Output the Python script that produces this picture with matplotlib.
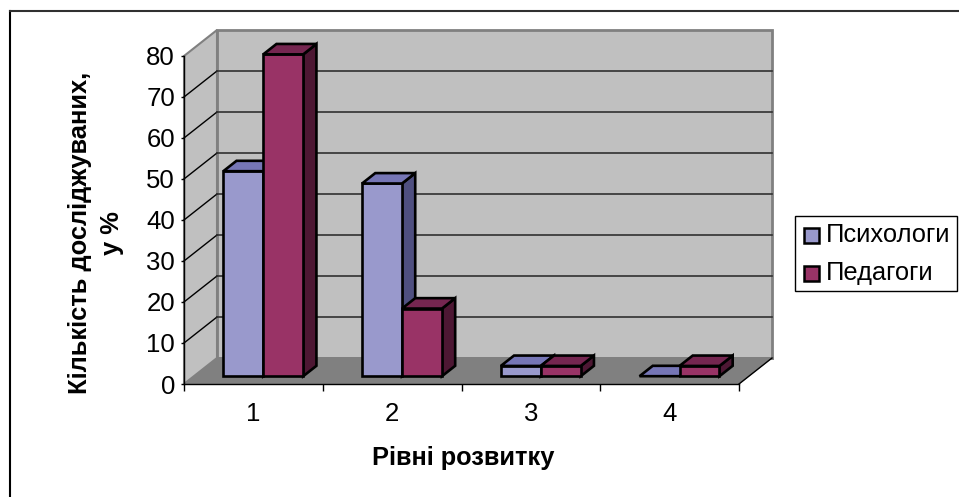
import matplotlib
matplotlib.use('Agg')
import matplotlib.pyplot as plt
from matplotlib.patches import Rectangle
from matplotlib.lines import Line2D

plt.rcParams['font.family'] = ['Liberation Sans', 'DejaVu Sans']

categories = ['1', '2', '3', '4']
psychologists = [50, 47, 2.5, 0]
pedagogues = [78.5, 16.5, 2.5, 2.5]
series_names = ['Психологи', 'Педагоги']
y_ticks = [0, 10, 20, 30, 40, 50, 60, 70, 80]
x_title = 'Рівні розвитку'
y_title = 'Кількість досліджуваних,\nу %'

W, H = 959, 497
# plot box in pixels
LEFT, RIGHT, TOP, BOTTOM = 184, 739, 56, 384
# full depth of the 3d box, in axis units
DEPTH_X = 33 / ((RIGHT - LEFT) / 4)
DEPTH_Y = 26 / ((BOTTOM - TOP) / 80)
BAR_W = 0.288
GAP = (1 - 2 * BAR_W) / 2
D_FRONT = 0.3
D_BACK = 0.7

FRONT = ['#9999CC', '#993366']
TOP_FACE = ['#7676B6', '#752650']
SIDE = ['#4F4F80', '#4D1733']
GREY_LINE = '#808080'


def off(x, y, d):
    return x + DEPTH_X * d, y + DEPTH_Y * d


def face(ax, pts, color, zorder, edge='black', lw=1.9):
    xs = [p[0] for p in pts]
    ys = [p[1] for p in pts]
    ax.fill(xs, ys, facecolor=color, edgecolor=edge, linewidth=lw, zorder=zorder,
            clip_on=False, joinstyle='miter')


def draw_bar(ax, x, value, s, z):
    x2 = x + BAR_W
    a = off(x, 0, D_FRONT)
    b = off(x2, 0, D_FRONT)
    c = off(x2, value, D_FRONT)
    d = off(x, value, D_FRONT)
    e = off(x2, value, D_BACK)
    f = off(x, value, D_BACK)
    g = off(x2, 0, D_BACK)
    if value > 0:
        face(ax, [b, g, e, c], SIDE[s], z)
        face(ax, [a, b, c, d], FRONT[s], z + 0.1)
    face(ax, [d, c, e, f], TOP_FACE[s], z + 0.2)


fig = plt.figure(figsize=(W / 100, H / 100), dpi=100, facecolor='white')

# chart border, only top and left are inside the picture
fig.add_artist(Line2D([10 / W, 10 / W], [0, 1 - 11 / H], color='black', lw=1.5))
fig.add_artist(Line2D([10 / W, 1], [1 - 11 / H, 1 - 11 / H], color='#303030', lw=1.5))

ax = fig.add_axes([LEFT / W, 1 - BOTTOM / H, (RIGHT - LEFT) / W, (BOTTOM - TOP) / H])
ax.set_xlim(0, 4)
ax.set_ylim(0, 80)
ax.patch.set_visible(False)
for name in ['top', 'right']:
    ax.spines[name].set_visible(False)
for name in ['left', 'bottom']:
    ax.spines[name].set_linewidth(1.0)
    ax.spines[name].set_zorder(3)

# walls and floor
face(ax, [(0, 0), off(0, 0, 1), off(4, 0, 1), (4, 0)], '#808080', 1, edge='#808080', lw=0.5)
face(ax, [off(0, 0, 1), off(4, 0, 1), off(4, 80, 1), off(0, 80, 1)], '#C0C0C0', 1, edge=GREY_LINE, lw=2.0)
face(ax, [(0, 0), off(0, 0, 1), off(0, 80, 1), (0, 80)], '#C0C0C0', 1, edge=GREY_LINE, lw=1.5)

# gridlines on side and back wall
for t in y_ticks[1:-1]:
    x0, y0 = off(0, t, 1)
    x1, y1 = off(4, t, 1)
    ax.plot([0, x0], [t, y0], color='black', lw=1.0, zorder=1.5, clip_on=False)
    ax.plot([x0, x1], [y0, y1], color='#303030', lw=1.2, zorder=1.5, clip_on=False)

ax.plot([off(0, 0, 1)[0], off(4, 0, 1)[0]], [off(0, 0, 1)[1]] * 2, color='#808080', lw=2, zorder=1.6, clip_on=False)
ax.plot([4, off(4, 0, 1)[0]], [0, off(4, 0, 1)[1]], color='black', lw=1.0, zorder=1.7, clip_on=False)

for i in range(len(categories)):
    draw_bar(ax, i + GAP, psychologists[i], 0, 4 + i)
    draw_bar(ax, i + GAP + BAR_W, pedagogues[i], 1, 4.5 + i)

ax.set_yticks(y_ticks)
ax.set_xticks(range(5))
ax.set_xticklabels([''] * 5)
ax.tick_params(axis='y', labelsize=18.5, length=2.5, width=1, pad=4)
ax.tick_params(axis='x', length=5, width=1)
for i, c in enumerate(categories):
    ax.text(i + 0.5, -7.2, c, ha='center', va='center', fontsize=18.5, clip_on=False)

ax.text(2.01, -18.1, x_title, ha='center', va='center', fontsize=18.3, fontweight='bold')
fig.text(96 / W, 1 - 233 / H, y_title, rotation=90, ha='center', va='center', ma='center',
         fontsize=18.4, fontweight='bold', linespacing=1.4)

# legend box
fig.add_artist(Rectangle((795 / W, 1 - 291 / H), 162 / W, 75 / H, transform=fig.transFigure,
                         facecolor='white', edgecolor='black', lw=1.0))
for row, name in enumerate(series_names):
    yc = 235 + row * 38
    fig.add_artist(Rectangle((804 / W, 1 - (yc + 8) / H), 15 / W, 15 / H, transform=fig.transFigure,
                             facecolor=FRONT[row], edgecolor='black', lw=1.8))
    fig.text(826 / W, 1 - yc / H, name, ha='left', va='center', fontsize=18.4)

fig.savefig('out.png', dpi=100)
